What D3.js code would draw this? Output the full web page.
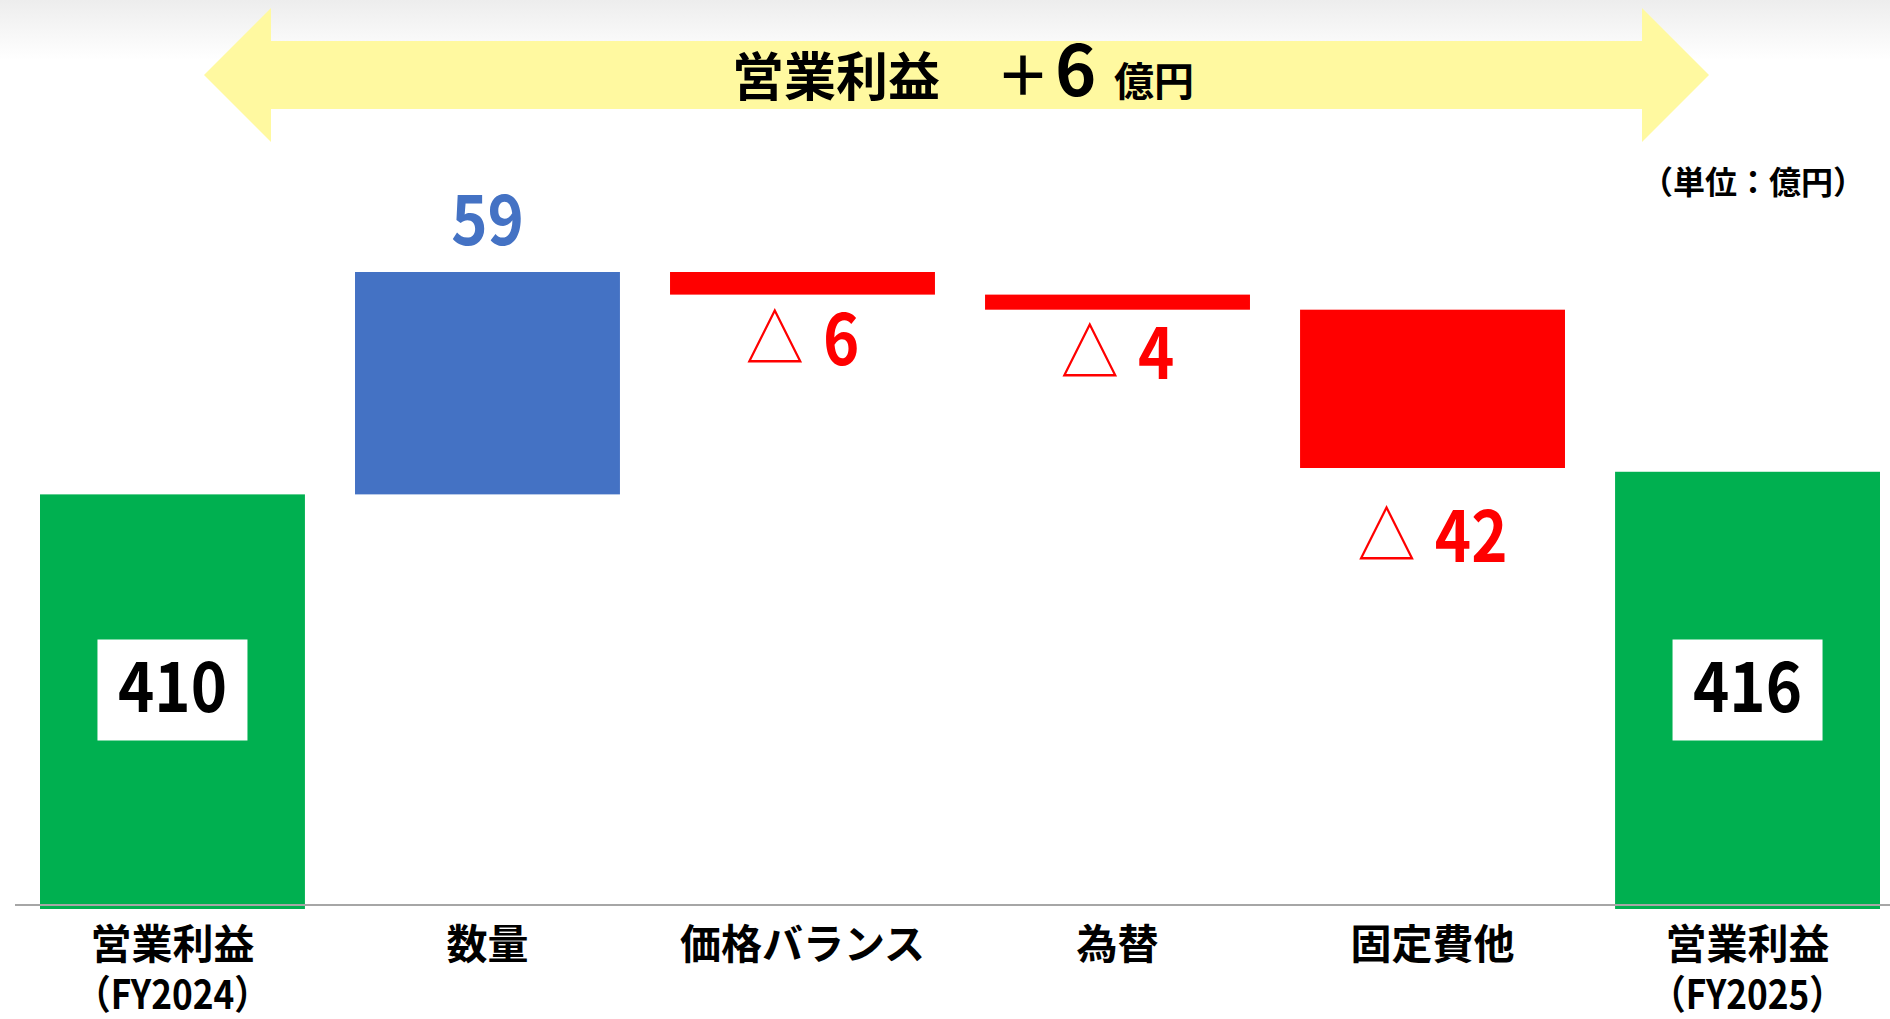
<!DOCTYPE html>
<html>
<head>
<meta charset="utf-8">
<script src="https://cdn.jsdelivr.net/npm/d3@7"></script>
<style>
    body { margin: 0; background: #fff; }
    svg text { font-family: 'Noto Sans CJK JP', 'Noto Sans', sans-serif; font-weight: 700; }
</style>
</head>
<body>
<div id="content"></div>
<script>
'use strict';

// chart data (億円)
var categories = [['営業利益', '（FY2024）'], ['数量'], ['価格バランス'], ['為替'], ['固定費他'], ['営業利益', '（FY2025）']];
var values = [410, 59, -6, -4, -42, 416];
var isTotal = [true, false, false, false, false, true];
var valueLabels = ['410', '59', '△ 6', '△ 4', '△ 42', '416'];
var yDomain = [300, 469];
var titleParts = ['営業利益', '＋', '6', '億円'];
var unitLabel = '（単位：億円）';

var Colors = {
    total: '#00B050',
    up: '#4472C4',
    down: '#FF0000',
    arrow: '#FFF9A0',
    axis: '#A6A6A6'
};

// the source font is narrower than Noto for digits
var NARROW = 0.88;

function buildSteps() {
    var running = 0;
    return values.map(function (v, i) {
        var lo, hi;
        if (isTotal[i]) {
            lo = yDomain[0];
            hi = v;
            running = v;
        } else {
            lo = running;
            hi = running + v;
            running = hi;
        }
        return {
            index: i,
            value: v,
            lo: Math.min(lo, hi),
            hi: Math.max(lo, hi),
            total: isTotal[i],
            label: valueLabels[i],
            lines: categories[i]
        };
    });
}

function placed(sel, cx, cy, sx) {
    return sel
        .attr('transform', function (d) {
            return 'translate(' + cx(d) + ' ' + cy(d) + ') scale(' + sx + ' 1)';
        })
        .attr('text-anchor', 'middle')
        .attr('dominant-baseline', 'central');
}

function run() {
    var width = 1890, height = 1019;

    var svg = d3.select('#content')
        .append('svg')
        .attr('width', width)
        .attr('height', height);

    // faint grey wash at the very top
    var defs = svg.append('defs');
    var grad = defs.append('linearGradient')
        .attr('id', 'topwash')
        .attr('x1', 0).attr('y1', 0).attr('x2', 0).attr('y2', 1);
    grad.append('stop').attr('offset', '0%').attr('stop-color', '#ededed');
    grad.append('stop').attr('offset', '100%').attr('stop-color', '#ffffff');
    svg.append('rect')
        .attr('width', width).attr('height', 60)
        .attr('fill', 'url(#topwash)');

    // double headed arrow behind the title
    var ar = { left: 204, right: 1709, headW: 67, cy: 75, headH: 67, shaftH: 34 };
    var arrowPts = [
        [ar.left, ar.cy],
        [ar.left + ar.headW, ar.cy - ar.headH],
        [ar.left + ar.headW, ar.cy - ar.shaftH],
        [ar.right - ar.headW, ar.cy - ar.shaftH],
        [ar.right - ar.headW, ar.cy - ar.headH],
        [ar.right, ar.cy],
        [ar.right - ar.headW, ar.cy + ar.headH],
        [ar.right - ar.headW, ar.cy + ar.shaftH],
        [ar.left + ar.headW, ar.cy + ar.shaftH],
        [ar.left + ar.headW, ar.cy + ar.headH]
    ];
    svg.append('path')
        .attr('d', d3.line()(arrowPts) + 'Z')
        .attr('fill', Colors.arrow);

    var title = svg.append('text')
        .attr('y', 96)
        .attr('fill', '#000');
    title.append('tspan').attr('x', 732).style('font-size', '52px').text(titleParts[0]);
    title.append('tspan').attr('x', 996).style('font-size', '54px').text(titleParts[1]);
    title.append('tspan').attr('x', 1055).style('font-size', '70px').text(titleParts[2]);
    title.append('tspan').attr('x', 1114).style('font-size', '40px').text(titleParts[3]);

    svg.append('text')
        .attr('x', 1641)
        .attr('y', 180)
        .attr('dominant-baseline', 'central')
        .style('font-size', '32px')
        .attr('fill', '#000')
        .text(unitLabel);

    // waterfall
    var steps = buildSteps();

    var x = d3.scaleBand()
        .domain(steps.map(function (d) { return d.index; }))
        .range([40, 1880])
        .paddingInner(0.159)
        .paddingOuter(0);

    var y = d3.scaleLinear()
        .domain(yDomain)
        .range([909, 272]);

    var cx = function (d) { return x(d.index) + x.bandwidth() / 2; };

    var colorOf = function (d) {
        if (d.total) return Colors.total;
        return d.value >= 0 ? Colors.up : Colors.down;
    };

    var bar = svg.selectAll('.step')
        .data(steps)
        .enter()
        .append('g')
        .attr('class', 'step');

    bar.append('rect')
        .attr('x', function (d) { return x(d.index); })
        .attr('y', function (d) { return y(d.hi); })
        .attr('width', x.bandwidth())
        .attr('height', function (d) { return y(d.lo) - y(d.hi); })
        .attr('fill', colorOf);

    // baseline
    svg.append('line')
        .attr('x1', 15).attr('x2', width)
        .attr('y1', y(yDomain[0]) - 4).attr('y2', y(yDomain[0]) - 4)
        .attr('stroke', Colors.axis)
        .attr('stroke-width', 2);

    // boxed totals
    var totals = bar.filter(function (d) { return d.total; });
    var boxW = 150, boxH = 101, boxCy = y(yDomain[0]) - 219;
    totals.append('rect')
        .attr('x', function (d) { return cx(d) - boxW / 2; })
        .attr('y', boxCy - boxH / 2)
        .attr('width', boxW)
        .attr('height', boxH)
        .attr('fill', '#fff');
    placed(totals.append('text'), cx, function () { return boxCy - 8; }, NARROW)
        .style('font-size', '70px')
        .attr('fill', '#000')
        .text(function (d) { return d.label; });

    // delta labels
    var belowGap = { 2: 40, 3: 39, 4: 63 };
    var deltas = bar.filter(function (d) { return !d.total; });
    var deltaText = placed(deltas.append('text'), cx, function (d) {
        return d.value >= 0 ? y(d.hi) - 57 : y(d.lo) + belowGap[d.index];
    }, NARROW)
        .style('font-size', '70px')
        .attr('fill', colorOf);
    deltaText.each(function (d) {
        var t = d3.select(this);
        if (d.label.charAt(0) === '△') {
            t.append('tspan').style('font-weight', 400).style('font-size', '66px').text('△');
            t.append('tspan').attr('dx', 6).text(d.label.slice(1));
        } else {
            t.text(d.label);
        }
    });

    // category labels, one text per line
    var lines = bar.selectAll('.cat')
        .data(function (d) {
            return d.lines.map(function (l, k) { return { text: l, k: k, index: d.index }; });
        })
        .enter()
        .append('text')
        .attr('class', 'cat')
        .attr('fill', '#000')
        .style('font-size', function (d) { return d.k === 0 ? '41px' : '40px'; })
        .text(function (d) { return d.text; });
    placed(lines, cx, function (d) { return 941 + d.k * 50; }, 1);
    lines.filter(function (d) { return d.k > 0; })
        .attr('transform', function (d) {
            return 'translate(' + cx(d) + ' ' + (941 + d.k * 50) + ') scale(' + NARROW + ' 1)';
        });
}

document.addEventListener('DOMContentLoaded', run);
</script>
</body>
</html>
